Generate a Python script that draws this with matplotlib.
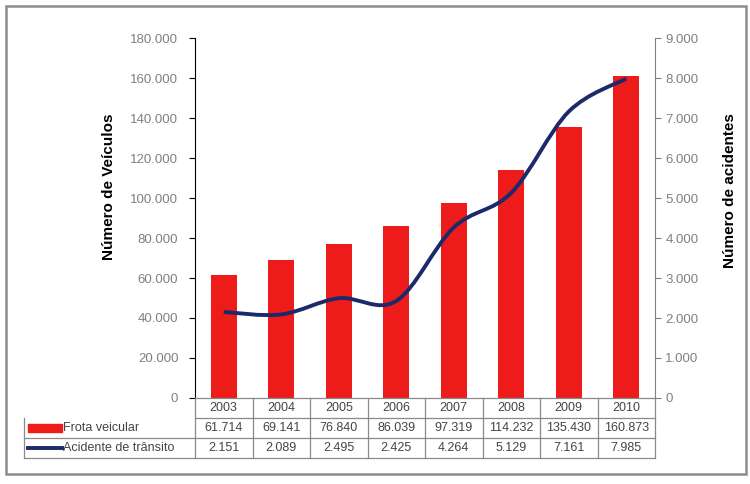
import matplotlib
matplotlib.use('Agg')
import matplotlib.pyplot as plt
import numpy as np
from matplotlib.path import Path
from matplotlib.patches import PathPatch, Rectangle
from matplotlib.lines import Line2D
from matplotlib.transforms import blended_transform_factory

plt.rcParams['font.family'] = ['Liberation Sans', 'DejaVu Sans']

anos = ['2003', '2004', '2005', '2006', '2007', '2008', '2009', '2010']
frota = [61714, 69141, 76840, 86039, 97319, 114232, 135430, 160873]
acidentes = [2151, 2089, 2495, 2425, 4264, 5129, 7161, 7985]
frota_txt = ['61.714', '69.141', '76.840', '86.039', '97.319', '114.232', '135.430', '160.873']
acid_txt = ['2.151', '2.089', '2.495', '2.425', '4.264', '5.129', '7.161', '7.985']

red = '#ee1b1b'
navy = '#1c2a6b'
grey = '#808080'
txt = '#444444'


def fmt_milhar(v, pos=None):
    return '{:,.0f}'.format(v).replace(',', '.')


def smooth_path(xs, ys):
    # Catmull-Rom style bezier through every point, like a spreadsheet smoothed line
    pts = np.column_stack((xs, ys)).astype(float)
    verts = [pts[0]]
    codes = [Path.MOVETO]
    n = len(pts)
    for i in range(n - 1):
        p0 = pts[i - 1] if i > 0 else pts[i]
        p1 = pts[i]
        p2 = pts[i + 1]
        p3 = pts[i + 2] if i + 2 < n else pts[i + 1]
        c1 = p1 + (p2 - p0) / 6.0
        c2 = p2 - (p3 - p1) / 6.0
        verts += [c1, c2, p2]
        codes += [Path.CURVE4] * 3
    return Path(verts, codes)


W, H = 750, 484
fig = plt.figure(figsize=(7.5, 4.84), dpi=100)
fig.patches.append(Rectangle((6 / W, 10 / H), 740 / W, 468 / H, transform=fig.transFigure,
                             fill=False, edgecolor='#8c8c8c', linewidth=1.8))

ax = fig.add_axes([195 / W, 1 - 398 / H, 460 / W, 360 / H])
x = np.arange(len(anos))
ax.bar(x, frota, width=0.45, color=red, zorder=2)
ax.set_xlim(-0.5, len(anos) - 0.5)
ax.set_ylim(0, 180000)
ax.set_yticks(np.arange(0, 180001, 20000))
ax.yaxis.set_major_formatter(plt.FuncFormatter(fmt_milhar))
ax.set_xticks([])
for s in ['top', 'right', 'bottom']:
    ax.spines[s].set_visible(False)
ax.spines['left'].set_color('black')
ax.tick_params(axis='y', labelsize=9.5, labelcolor='#808080', length=4, pad=8, direction='out')
ax.set_ylabel('Número de Veículos', fontsize=11, fontweight='bold')
ax.yaxis.set_label_coords(-0.172, 0.586)

ax2 = ax.twinx()
ax2.set_ylim(0, 9000)
ax2.set_yticks(np.arange(0, 9001, 1000))
ax2.yaxis.set_major_formatter(plt.FuncFormatter(fmt_milhar))
for s in ['top', 'left', 'bottom']:
    ax2.spines[s].set_visible(False)
ax2.spines['right'].set_color(grey)
ax2.tick_params(axis='y', labelsize=9.5, labelcolor='#808080', length=4, color=grey, direction='out')
ax2.set_ylabel('Número de acidentes', fontsize=11, fontweight='bold', rotation=90)
ax2.yaxis.set_label_coords(1.148, 0.575)
ax2.add_patch(PathPatch(smooth_path(x, acidentes), fill=False, edgecolor=navy,
                        linewidth=2.8, zorder=3))

# data table under the plot
tr = blended_transform_factory(ax.transData, ax.transAxes)
rh = 20 / 360.0
left = -0.5
right = len(anos) - 0.5
lab_left = -0.5 + (24 - 195) / 57.5
lc = '#8a8a8a'


def hline(x0, x1, y):
    fig.lines.append(Line2D([x0, x1], [y, y], transform=tr, color=lc, linewidth=0.9))


def vline(xv, y0, y1):
    fig.lines.append(Line2D([xv, xv], [y0, y1], transform=tr, color=lc, linewidth=0.9))


hline(left, right, 0)
hline(left, right, -rh)
hline(lab_left, right, -2 * rh)
hline(lab_left, right, -3 * rh)
for i in range(len(anos) + 1):
    vline(left + i, -3 * rh, 0)
vline(lab_left, -3 * rh, -rh)

for i, a in enumerate(anos):
    ax.text(i, -0.5 * rh, a, transform=tr, ha='center', va='center', fontsize=9, color=txt)
    ax.text(i, -1.5 * rh, frota_txt[i], transform=tr, ha='center', va='center', fontsize=9, color=txt)
    ax.text(i, -2.5 * rh, acid_txt[i], transform=tr, ha='center', va='center', fontsize=9, color=txt)

key_x0 = lab_left + 4 / 57.5
key_x1 = lab_left + 38 / 57.5
fig.patches.append(Rectangle((key_x0, -1.5 * rh - 4 / 360), key_x1 - key_x0, 8 / 360,
                             transform=tr, color=red))
fig.lines.append(Line2D([key_x0, key_x1], [-2.5 * rh, -2.5 * rh], transform=tr, color=navy, linewidth=2.8))
ax.text(key_x1 + 1 / 57.5, -1.5 * rh, 'Frota veicular', transform=tr, ha='left', va='center',
        fontsize=9, color=txt)
ax.text(key_x1 + 1 / 57.5, -2.5 * rh, 'Acidente de trânsito', transform=tr, ha='left', va='center',
        fontsize=9, color=txt)

fig.savefig('out.png', dpi=100)
